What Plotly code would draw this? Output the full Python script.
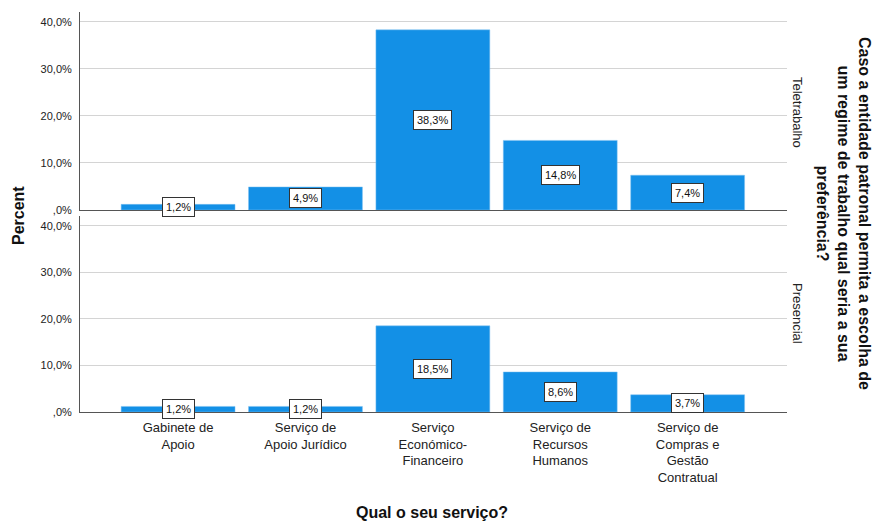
import plotly.graph_objects as go

categories = ["Gabinete de Apoio", "Serviço de Apoio Jurídico", "Serviço Económico-Financeiro",
              "Serviço de Recursos Humanos", "Serviço de Compras e Gestão Contratual"]
tick_labels = ["Gabinete de<br>Apoio", "Serviço de<br>Apoio Jurídico", "Serviço<br>Económico-<br>Financeiro",
               "Serviço de<br>Recursos<br>Humanos", "Serviço de<br>Compras e<br>Gestão<br>Contratual"]
teletrabalho = [1.2, 4.9, 38.3, 14.8, 7.4]
presencial = [1.2, 1.2, 18.5, 8.6, 3.7]
panel_names = ["Teletrabalho", "Presencial"]
y_tickvals = [0, 10, 20, 30, 40]
y_ticktext = [",0%", "10,0%", "20,0%", "30,0%", "40,0%"]

FONT = "Arial, Liberation Sans, sans-serif"
BAR = "#1390E6"

L, R, T, B = 80, 787, 12, 412  # plot area in screenshot pixels
W = R - L
H = B - T


def px_x(x):
    return (x - L) / W


def px_y(y):
    return (B - y) / H


fig = go.Figure()
fig.add_trace(go.Bar(x=categories, y=teletrabalho, marker=dict(color=BAR, line=dict(color="#7fc0f0", width=0.5)),
                     width=0.894, xaxis="x", yaxis="y", showlegend=False, hoverinfo="skip"))
fig.add_trace(go.Bar(x=categories, y=presencial, marker=dict(color=BAR, line=dict(color="#7fc0f0", width=0.5)),
                     width=0.894, xaxis="x2", yaxis="y2", showlegend=False, hoverinfo="skip"))

annotations = []
for vals, xr, yr in [(teletrabalho, "x", "y"), (presencial, "x2", "y2")]:
    for c, v in zip(categories, vals):
        annotations.append(dict(x=c, y=v / 2, xref=xr, yref=yr, text=f"{v:.1f}%".replace(".", ","),
                                showarrow=False, bgcolor="white", bordercolor="#333333", borderwidth=1,
                                borderpad=3, xanchor="center", yanchor="middle",
                                font=dict(family=FONT, size=11, color="#111")))

# strip labels
annotations.append(dict(x=px_x(798), y=px_y(112), xref="paper", yref="paper", text=panel_names[0], textangle=90,
                        showarrow=False, font=dict(family=FONT, size=13, color="#222"),
                        xanchor="center", yanchor="middle"))
annotations.append(dict(x=px_x(798), y=px_y(313), xref="paper", yref="paper", text=panel_names[1], textangle=90,
                        showarrow=False, font=dict(family=FONT, size=13, color="#222"),
                        xanchor="center", yanchor="middle"))
# right title
annotations.append(dict(x=px_x(843), y=px_y(213), xref="paper", yref="paper",
                        text="<b>Caso a entidade patronal permita a escolha de<br>um regime de trabalho qual seria a sua<br>preferência?</b>",
                        textangle=90, showarrow=False, align="center", xanchor="center", yanchor="middle",
                        font=dict(family=FONT, size=16, color="#111")))
# y title
annotations.append(dict(x=px_x(18), y=px_y(216), xref="paper", yref="paper", text="<b>Percent</b>",
                        textangle=-90, showarrow=False, xanchor="center", yanchor="middle",
                        font=dict(family=FONT, size=16, color="#111")))
# x title
annotations.append(dict(x=px_x(432), y=px_y(512), xref="paper", yref="paper",
                        text="<b>Qual o seu serviço?</b>", showarrow=False, xanchor="center", yanchor="middle",
                        font=dict(family=FONT, size=16, color="#111")))

xcommon = dict(range=[-0.77, 4.78], showgrid=False, ticks="", showline=True, linecolor="#555", linewidth=1,
               zeroline=False, categoryorder="array", categoryarray=categories, automargin=False)
ycommon = dict(range=[0, 42.1], tickvals=y_tickvals, ticktext=y_ticktext, showgrid=True, gridcolor="#D4D4D4",
               gridwidth=1, showline=True, linecolor="#555", linewidth=1, zeroline=False, ticks="",
               ticklabelstandoff=5,
               tickfont=dict(family=FONT, size=11, color="#222"), automargin=False)

FW, FH = 874, 522
fig.update_layout(
    width=FW, height=FH,
    margin=dict(l=L, r=FW - R, t=T, b=FH - B, autoexpand=False),
    paper_bgcolor="white", plot_bgcolor="white",
    xaxis=dict(**xcommon, anchor="y", showticklabels=False),
    yaxis=dict(**ycommon, domain=[px_y(210), 1], anchor="x"),
    xaxis2=dict(**xcommon, anchor="y2", showticklabels=True, tickvals=categories, ticktext=tick_labels,
                ticklabelstandoff=3, tickfont=dict(family=FONT, size=13, color="#222")),
    yaxis2=dict(**ycommon, domain=[0, px_y(216)], anchor="x2"),
    annotations=annotations,
)

fig.write_html("out.html", config={"displayModeBar": False},
               post_script="document.body.style.margin='0';document.body.style.overflow='hidden';")
